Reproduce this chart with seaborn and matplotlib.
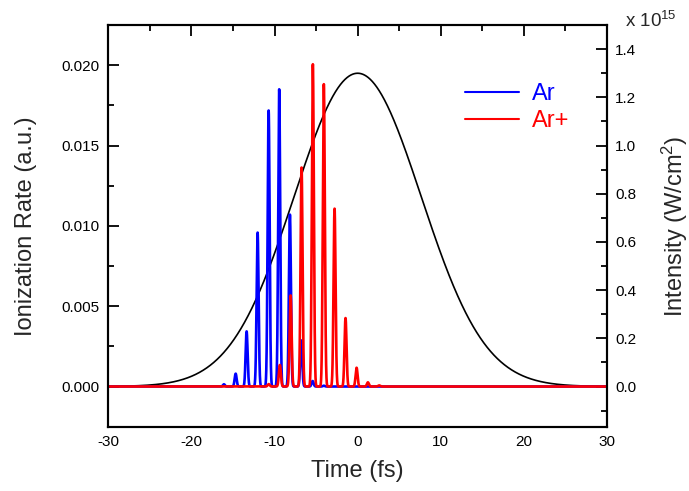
import numpy as np
import pandas as pd
import matplotlib
matplotlib.use("Agg")
import matplotlib.pyplot as plt
import seaborn as sns

# ---- data ----
# Ar (blue) ionization-rate spikes: times (fs) and peak heights (a.u.)
ar_times = [-16.09, -14.68, -13.36, -12.04, -10.71, -9.44, -8.15, -6.79, -5.42, -4.07]
ar_heights = [0.00014, 0.0008, 0.00343, 0.00958, 0.01718, 0.0185, 0.0107, 0.00287, 0.00034, 0.00005]
# Ar+ (red) ionization-rate spikes
arp_times = [-10.71, -9.36, -8.07, -6.75, -5.39, -4.07, -2.78, -1.46, -0.13, 1.23, 2.58]
arp_heights = [0.00015, 0.00134, 0.00567, 0.01363, 0.02006, 0.01882, 0.01107, 0.00426, 0.00117, 0.00026, 0.00007]
spike_width = 0.12          # fs (gaussian sigma of one spike)
# laser pulse intensity (units of 1e15 W/cm^2)
pulse_peak = 1.30
pulse_fwhm = 18.0           # fs
pulse_center = 0.0

x_ticks = [-30, -20, -10, 0, 10, 20, 30]
left_ticks = [0.000, 0.005, 0.010, 0.015, 0.020]
right_ticks = [0.0, 0.2, 0.4, 0.6, 0.8, 1.0, 1.2, 1.4]

t = np.linspace(-30, 30, 12001)

def spikes(times, heights):
    y = np.zeros_like(t)
    for tc, h in zip(times, heights):
        y += h * np.exp(-0.5 * ((t - tc) / spike_width) ** 2)
    return y

df = pd.DataFrame({
    "t": t,
    "Ar": spikes(ar_times, ar_heights),
    "Ar+": spikes(arp_times, arp_heights),
    "I": pulse_peak * np.exp(-4 * np.log(2) * ((t - pulse_center) / pulse_fwhm) ** 2),
})

sns.set_style("white")
plt.rcParams["font.family"] = ["Liberation Sans", "DejaVu Sans"]
plt.rcParams["mathtext.fontset"] = "custom"
plt.rcParams["mathtext.rm"] = "Liberation Sans"
plt.rcParams["mathtext.it"] = "Liberation Sans:italic"
plt.rcParams["mathtext.bf"] = "Liberation Sans:bold"

fig = plt.figure(figsize=(6.89, 4.91), dpi=100)
ax = fig.add_axes([0.1572, 0.1310, 0.8810 - 0.1572, 0.949 - 0.1310])
ax2 = ax.twinx()
ax.set_zorder(ax2.get_zorder() + 1)
ax.patch.set_visible(False)

sns.lineplot(data=df, x="t", y="I", ax=ax2, color="black", linewidth=1.2)
sns.lineplot(data=df, x="t", y="Ar", ax=ax, color="#0000ff", linewidth=1.9, label="Ar")
sns.lineplot(data=df, x="t", y="Ar+", ax=ax, color="#ff0000", linewidth=1.9, label="Ar+")

ax.set_xlim(-30, 30)
ax.set_ylim(-0.0025, 0.0225)
ax2.set_ylim(-0.0025 * 1.5 / 0.0225, 1.5)

ax.set_xticks(x_ticks)
ax.set_xticklabels([str(v) for v in x_ticks])
ax.set_xticks(np.arange(-25, 30, 10), minor=True)
ax.set_yticks(left_ticks)
ax.set_yticklabels([f"{v:.3f}" for v in left_ticks])
ax.set_yticks([0.0025, 0.0075, 0.0125, 0.0175], minor=True)
ax2.set_yticks(right_ticks)
ax2.set_yticklabels([f"{v:.1f}" for v in right_ticks])
ax2.set_yticks(np.arange(-0.1, 1.5, 0.2), minor=True)

for a in (ax, ax2):
    for s in a.spines.values():
        s.set_linewidth(1.5)
        s.set_color("black")
ax.tick_params(axis="both", which="major", direction="in", length=8, width=1.3,
               labelsize=11, top=True, right=False, colors="black", pad=6)
ax.tick_params(axis="both", which="minor", direction="in", length=4, width=1.3,
               top=True, right=False, colors="black")
ax2.tick_params(axis="y", which="major", direction="in", length=8, width=1.3,
                labelsize=11, colors="black", pad=6)
ax2.tick_params(axis="y", which="minor", direction="in", length=4, width=1.3, colors="black")

ax.set_xlabel("Time (fs)", fontsize=17, labelpad=8)
ax.set_ylabel("Ionization Rate (a.u.)", fontsize=17, labelpad=18)
ax2.set_ylabel("Intensity (W/cm$^2$)", fontsize=17, labelpad=17)
fig.text(0.907, 0.945, r"x 10$^{15}$", fontsize=13.5, ha="left", va="baseline")

leg = ax.legend(loc="upper left", bbox_to_anchor=(0.715, 0.855), frameon=False,
                fontsize=17, handlelength=2.3, handletextpad=0.55, labelspacing=0.2,
                borderpad=0, borderaxespad=0, labelcolor="linecolor")
for h in leg.get_lines():
    h.set_linewidth(1.5)

fig.savefig("out.png", dpi=100)
